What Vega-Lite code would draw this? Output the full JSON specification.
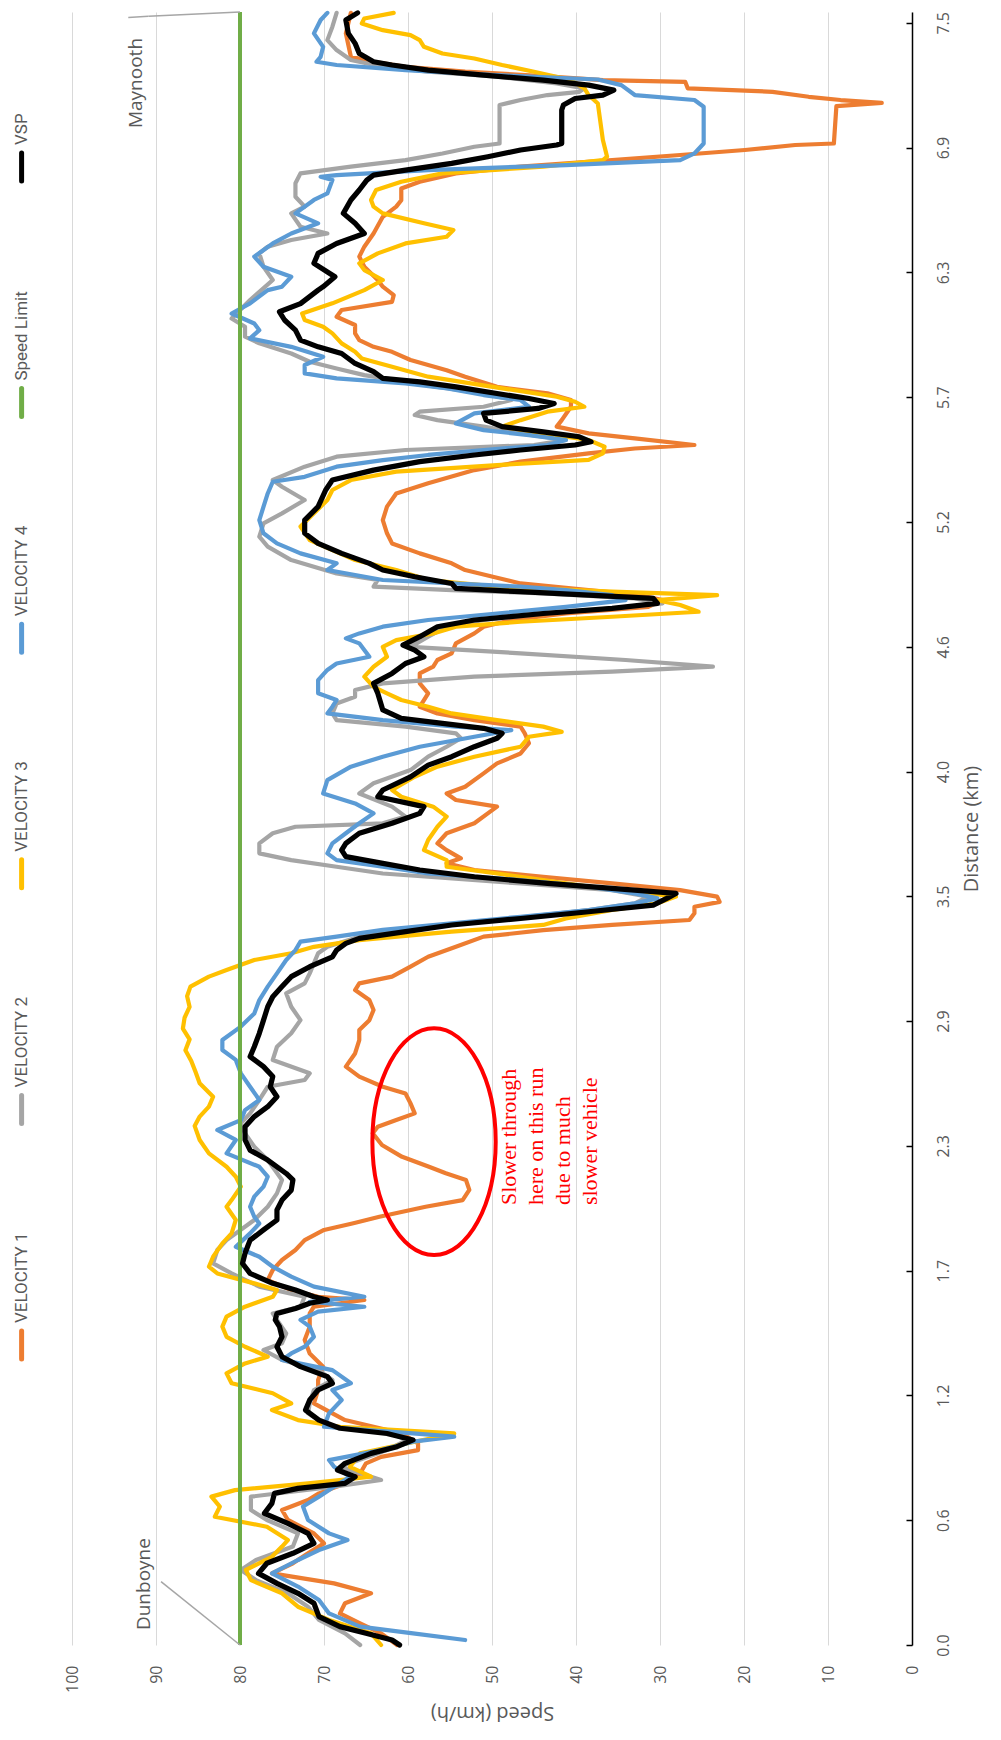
{
"$schema": "https://vega.github.io/schema/vega-lite/v6.json",
"autosize": "none",
"padding": {"left": 72, "top": 12, "right": 89, "bottom": 95},
"width": 840,
"height": 1633,
"background": "white",
"config": {"view": {"stroke": null}},
"data": {"values": [{}]},
"datasets": {
"v1": [{"d":7.546,"v":66.8},{"d":7.451,"v":67.4},{"d":7.343,"v":66.8},{"d":7.32,"v":64.1},{"d":7.297,"v":60.3},{"d":7.274,"v":53.2},{"d":7.254,"v":43.9},{"d":7.235,"v":36.8},{"d":7.227,"v":27.0},{"d":7.197,"v":26.7},{"d":7.181,"v":16.6},{"d":7.158,"v":12.3},{"d":7.143,"v":8.5},{"d":7.13,"v":3.6},{"d":7.115,"v":9.0},{"d":6.942,"v":9.3},{"d":6.935,"v":13.9},{"d":6.912,"v":19.9},{"d":6.889,"v":27.6},{"d":6.865,"v":35.7},{"d":6.835,"v":46.6},{"d":6.804,"v":54.3},{"d":6.765,"v":58.6},{"d":6.734,"v":60.8},{"d":6.68,"v":60.8},{"d":6.65,"v":61.4},{"d":6.603,"v":63.0},{"d":6.526,"v":64.1},{"d":6.465,"v":65.2},{"d":6.419,"v":65.8},{"d":6.372,"v":65.2},{"d":6.311,"v":63.6},{"d":6.28,"v":63.0},{"d":6.241,"v":61.7},{"d":6.21,"v":61.9},{"d":6.172,"v":67.9},{"d":6.141,"v":68.5},{"d":6.103,"v":66.3},{"d":6.064,"v":66.3},{"d":6.033,"v":65.8},{"d":6.002,"v":64.1},{"d":5.979,"v":61.9},{"d":5.941,"v":59.7},{"d":5.894,"v":55.4},{"d":5.864,"v":53.2},{"d":5.817,"v":49.4},{"d":5.787,"v":43.4},{"d":5.756,"v":40.6},{"d":5.725,"v":40.6},{"d":5.663,"v":41.7},{"d":5.633,"v":42.3},{"d":5.602,"v":38.5},{"d":5.579,"v":33.0},{"d":5.548,"v":25.9},{"d":5.532,"v":33.0},{"d":5.509,"v":38.5},{"d":5.471,"v":46.6},{"d":5.432,"v":52.1},{"d":5.371,"v":57.6},{"d":5.324,"v":61.4},{"d":5.263,"v":62.5},{"d":5.201,"v":63.0},{"d":5.14,"v":62.5},{"d":5.093,"v":61.9},{"d":5.047,"v":58.6},{"d":5.001,"v":54.8},{"d":4.97,"v":53.2},{"d":4.939,"v":49.9},{"d":4.908,"v":46.6},{"d":4.877,"v":38.5},{"d":4.854,"v":32.5},{"d":4.831,"v":29.7},{"d":4.8,"v":31.4},{"d":4.769,"v":41.2},{"d":4.739,"v":47.7},{"d":4.708,"v":51.0},{"d":4.677,"v":52.1},{"d":4.631,"v":54.3},{"d":4.585,"v":54.8},{"d":4.554,"v":56.5},{"d":4.523,"v":57.0},{"d":4.492,"v":58.6},{"d":4.446,"v":58.6},{"d":4.4,"v":57.6},{"d":4.369,"v":58.1},{"d":4.338,"v":58.6},{"d":4.307,"v":56.5},{"d":4.276,"v":52.1},{"d":4.246,"v":46.6},{"d":4.215,"v":46.1},{"d":4.169,"v":45.6},{"d":4.122,"v":46.6},{"d":4.076,"v":49.4},{"d":4.03,"v":51.0},{"d":3.968,"v":53.2},{"d":3.937,"v":55.4},{"d":3.907,"v":54.3},{"d":3.876,"v":49.4},{"d":3.845,"v":50.5},{"d":3.799,"v":52.1},{"d":3.753,"v":55.4},{"d":3.706,"v":56.5},{"d":3.675,"v":55.4},{"d":3.637,"v":53.7},{"d":3.614,"v":55.4},{"d":3.583,"v":52.1},{"d":3.552,"v":43.9},{"d":3.521,"v":35.7},{"d":3.49,"v":27.6},{"d":3.46,"v":23.2},{"d":3.436,"v":22.9},{"d":3.413,"v":25.9},{"d":3.383,"v":25.9},{"d":3.352,"v":26.5},{"d":3.329,"v":35.7},{"d":3.305,"v":43.9},{"d":3.275,"v":51.0},{"d":3.228,"v":54.3},{"d":3.182,"v":57.6},{"d":3.136,"v":59.7},{"d":3.09,"v":61.9},{"d":3.059,"v":65.8},{"d":3.028,"v":66.3},{"d":2.982,"v":64.6},{"d":2.936,"v":64.1},{"d":2.889,"v":64.6},{"d":2.843,"v":65.8},{"d":2.797,"v":65.8},{"d":2.735,"v":66.3},{"d":2.674,"v":67.4},{"d":2.628,"v":65.8},{"d":2.581,"v":63.0},{"d":2.55,"v":60.3},{"d":2.504,"v":59.7},{"d":2.458,"v":59.2},{"d":2.427,"v":61.4},{"d":2.396,"v":63.6},{"d":2.366,"v":64.2},{"d":2.312,"v":63.1},{"d":2.257,"v":60.7},{"d":2.211,"v":57.5},{"d":2.181,"v":55.5},{"d":2.15,"v":53.1},{"d":2.104,"v":52.7},{"d":2.057,"v":53.5},{"d":2.026,"v":57.9},{"d":1.98,"v":63.4},{"d":1.95,"v":66.5},{"d":1.919,"v":70.0},{"d":1.872,"v":72.3},{"d":1.826,"v":73.4},{"d":1.78,"v":75.0},{"d":1.734,"v":76.1},{"d":1.687,"v":76.7},{"d":1.641,"v":73.9},{"d":1.61,"v":70.7},{"d":1.595,"v":65.2},{"d":1.564,"v":71.2},{"d":1.533,"v":71.7},{"d":1.472,"v":71.7},{"d":1.41,"v":72.3},{"d":1.348,"v":71.7},{"d":1.287,"v":70.1},{"d":1.225,"v":70.7},{"d":1.179,"v":70.7},{"d":1.117,"v":71.2},{"d":1.04,"v":67.5},{"d":0.978,"v":60.7},{"d":0.932,"v":58.8},{"d":0.901,"v":58.8},{"d":0.87,"v":63.2},{"d":0.84,"v":65.0},{"d":0.793,"v":65.7},{"d":0.747,"v":67.5},{"d":0.701,"v":70.6},{"d":0.67,"v":71.9},{"d":0.624,"v":75.0},{"d":0.578,"v":74.3},{"d":0.516,"v":71.2},{"d":0.47,"v":70.0},{"d":0.424,"v":71.9},{"d":0.378,"v":73.7},{"d":0.331,"v":76.2},{"d":0.285,"v":68.8},{"d":0.239,"v":64.4},{"d":0.193,"v":67.5},{"d":0.146,"v":68.1},{"d":0.1,"v":65.7},{"d":0.054,"v":63.2},{"d":0.0,"v":61.3}],
"v2": [{"d":7.546,"v":68.5},{"d":7.482,"v":69.0},{"d":7.42,"v":69.6},{"d":7.374,"v":68.5},{"d":7.328,"v":66.8},{"d":7.297,"v":63.0},{"d":7.274,"v":57.6},{"d":7.251,"v":49.4},{"d":7.22,"v":42.3},{"d":7.197,"v":39.0},{"d":7.181,"v":39.6},{"d":7.166,"v":43.4},{"d":7.143,"v":46.6},{"d":7.12,"v":49.1},{"d":6.942,"v":49.1},{"d":6.927,"v":52.1},{"d":6.896,"v":55.9},{"d":6.865,"v":60.3},{"d":6.835,"v":66.8},{"d":6.804,"v":72.8},{"d":6.758,"v":73.4},{"d":6.696,"v":73.4},{"d":6.65,"v":72.3},{"d":6.619,"v":73.9},{"d":6.557,"v":72.8},{"d":6.526,"v":69.6},{"d":6.496,"v":73.9},{"d":6.465,"v":76.7},{"d":6.434,"v":77.7},{"d":6.372,"v":77.2},{"d":6.311,"v":76.1},{"d":6.218,"v":78.8},{"d":6.133,"v":81.0},{"d":6.095,"v":79.4},{"d":6.049,"v":79.4},{"d":6.018,"v":77.7},{"d":5.971,"v":73.9},{"d":5.933,"v":71.7},{"d":5.902,"v":68.5},{"d":5.871,"v":65.2},{"d":5.848,"v":61.4},{"d":5.817,"v":56.5},{"d":5.787,"v":51.0},{"d":5.756,"v":47.7},{"d":5.725,"v":51.0},{"d":5.702,"v":58.6},{"d":5.687,"v":59.2},{"d":5.663,"v":56.5},{"d":5.633,"v":51.0},{"d":5.602,"v":46.6},{"d":5.571,"v":41.2},{"d":5.548,"v":45.0},{"d":5.525,"v":60.3},{"d":5.494,"v":68.5},{"d":5.448,"v":72.3},{"d":5.386,"v":76.1},{"d":5.355,"v":75.0},{"d":5.294,"v":72.3},{"d":5.232,"v":75.0},{"d":5.186,"v":77.2},{"d":5.124,"v":77.7},{"d":5.078,"v":76.7},{"d":5.016,"v":73.9},{"d":4.954,"v":68.5},{"d":4.924,"v":63.6},{"d":4.893,"v":64.1},{"d":4.877,"v":54.8},{"d":4.862,"v":43.9},{"d":4.839,"v":33.0},{"d":4.816,"v":29.7},{"d":4.793,"v":35.7},{"d":4.769,"v":43.9},{"d":4.739,"v":51.0},{"d":4.708,"v":55.4},{"d":4.662,"v":57.6},{"d":4.615,"v":59.7},{"d":4.585,"v":46.6},{"d":4.554,"v":34.1},{"d":4.523,"v":23.7},{"d":4.5,"v":35.7},{"d":4.477,"v":52.1},{"d":4.446,"v":63.0},{"d":4.415,"v":66.3},{"d":4.384,"v":66.3},{"d":4.353,"v":68.5},{"d":4.307,"v":69.0},{"d":4.276,"v":68.5},{"d":4.246,"v":60.3},{"d":4.215,"v":54.3},{"d":4.192,"v":53.7},{"d":4.153,"v":55.4},{"d":4.107,"v":57.6},{"d":4.045,"v":59.7},{"d":3.984,"v":64.1},{"d":3.937,"v":65.8},{"d":3.876,"v":61.9},{"d":3.83,"v":60.3},{"d":3.799,"v":63.0},{"d":3.783,"v":73.4},{"d":3.753,"v":76.1},{"d":3.706,"v":77.7},{"d":3.66,"v":77.7},{"d":3.629,"v":73.9},{"d":3.598,"v":68.5},{"d":3.567,"v":63.0},{"d":3.552,"v":57.6},{"d":3.521,"v":46.6},{"d":3.49,"v":35.7},{"d":3.46,"v":31.4},{"d":3.429,"v":33.0},{"d":3.398,"v":38.5},{"d":3.352,"v":49.4},{"d":3.321,"v":57.6},{"d":3.275,"v":65.8},{"d":3.228,"v":69.6},{"d":3.198,"v":70.7},{"d":3.152,"v":71.2},{"d":3.105,"v":71.7},{"d":3.059,"v":72.3},{"d":3.013,"v":74.5},{"d":2.951,"v":73.9},{"d":2.889,"v":72.8},{"d":2.828,"v":73.9},{"d":2.766,"v":75.6},{"d":2.705,"v":76.1},{"d":2.643,"v":71.7},{"d":2.612,"v":72.3},{"d":2.581,"v":76.7},{"d":2.52,"v":77.7},{"d":2.458,"v":78.8},{"d":2.412,"v":79.9},{"d":2.365,"v":79.4},{"d":2.304,"v":78.3},{"d":2.242,"v":76.7},{"d":2.15,"v":75.0},{"d":2.088,"v":75.6},{"d":2.026,"v":76.7},{"d":1.965,"v":78.3},{"d":1.872,"v":81.6},{"d":1.826,"v":82.7},{"d":1.764,"v":83.2},{"d":1.718,"v":81.0},{"d":1.657,"v":77.7},{"d":1.61,"v":72.3},{"d":1.564,"v":72.8},{"d":1.533,"v":76.1},{"d":1.503,"v":75.6},{"d":1.441,"v":74.5},{"d":1.395,"v":75.0},{"d":1.364,"v":77.2},{"d":1.318,"v":75.0},{"d":1.271,"v":70.7},{"d":1.225,"v":69.0},{"d":1.179,"v":71.2},{"d":1.117,"v":71.7},{"d":1.071,"v":71.9},{"d":1.009,"v":69.4},{"d":0.978,"v":61.9},{"d":0.948,"v":60.1},{"d":0.901,"v":62.5},{"d":0.824,"v":68.1},{"d":0.763,"v":63.2},{"d":0.732,"v":68.8},{"d":0.686,"v":78.7},{"d":0.624,"v":78.7},{"d":0.578,"v":76.8},{"d":0.516,"v":73.1},{"d":0.455,"v":73.7},{"d":0.393,"v":78.1},{"d":0.347,"v":79.9},{"d":0.3,"v":78.1},{"d":0.239,"v":74.3},{"d":0.177,"v":71.9},{"d":0.116,"v":70.6},{"d":0.054,"v":67.5},{"d":0.0,"v":65.7}],
"v3": [{"d":7.546,"v":61.7},{"d":7.52,"v":65.2},{"d":7.497,"v":65.5},{"d":7.466,"v":63.0},{"d":7.443,"v":59.7},{"d":7.42,"v":58.6},{"d":7.389,"v":58.1},{"d":7.358,"v":55.9},{"d":7.335,"v":52.1},{"d":7.305,"v":48.8},{"d":7.274,"v":45.0},{"d":7.235,"v":40.6},{"d":7.197,"v":39.0},{"d":7.166,"v":38.5},{"d":7.127,"v":37.4},{"d":6.958,"v":36.8},{"d":6.881,"v":36.3},{"d":6.865,"v":36.8},{"d":6.835,"v":43.9},{"d":6.804,"v":55.9},{"d":6.765,"v":60.8},{"d":6.727,"v":63.8},{"d":6.681,"v":64.4},{"d":6.65,"v":64.1},{"d":6.619,"v":63.0},{"d":6.573,"v":58.1},{"d":6.542,"v":54.6},{"d":6.511,"v":55.4},{"d":6.48,"v":60.3},{"d":6.434,"v":63.6},{"d":6.388,"v":65.8},{"d":6.357,"v":65.2},{"d":6.311,"v":63.0},{"d":6.264,"v":65.2},{"d":6.203,"v":69.0},{"d":6.156,"v":72.6},{"d":6.126,"v":72.3},{"d":6.095,"v":70.1},{"d":6.064,"v":69.0},{"d":6.018,"v":67.9},{"d":5.979,"v":66.3},{"d":5.948,"v":65.5},{"d":5.91,"v":61.9},{"d":5.864,"v":57.6},{"d":5.817,"v":49.9},{"d":5.771,"v":42.3},{"d":5.748,"v":40.1},{"d":5.725,"v":39.0},{"d":5.702,"v":43.4},{"d":5.663,"v":46.6},{"d":5.633,"v":48.8},{"d":5.602,"v":43.9},{"d":5.571,"v":38.5},{"d":5.54,"v":36.6},{"d":5.509,"v":36.8},{"d":5.479,"v":38.5},{"d":5.455,"v":49.4},{"d":5.425,"v":61.4},{"d":5.386,"v":66.8},{"d":5.34,"v":69.0},{"d":5.294,"v":69.6},{"d":5.232,"v":71.2},{"d":5.171,"v":72.8},{"d":5.109,"v":71.7},{"d":5.062,"v":69.0},{"d":5.016,"v":66.3},{"d":4.97,"v":61.4},{"d":4.924,"v":57.6},{"d":4.893,"v":49.4},{"d":4.87,"v":35.7},{"d":4.854,"v":23.2},{"d":4.831,"v":30.3},{"d":4.808,"v":27.6},{"d":4.777,"v":25.4},{"d":4.754,"v":35.7},{"d":4.731,"v":46.6},{"d":4.708,"v":54.3},{"d":4.677,"v":57.0},{"d":4.646,"v":61.4},{"d":4.615,"v":63.0},{"d":4.569,"v":62.5},{"d":4.523,"v":64.1},{"d":4.477,"v":65.2},{"d":4.43,"v":64.1},{"d":4.4,"v":62.5},{"d":4.369,"v":60.8},{"d":4.338,"v":57.6},{"d":4.307,"v":54.8},{"d":4.276,"v":49.4},{"d":4.246,"v":43.9},{"d":4.222,"v":41.7},{"d":4.199,"v":45.6},{"d":4.153,"v":46.6},{"d":4.107,"v":52.1},{"d":4.061,"v":56.5},{"d":4.014,"v":59.2},{"d":3.953,"v":61.9},{"d":3.922,"v":60.8},{"d":3.876,"v":57.0},{"d":3.83,"v":55.4},{"d":3.783,"v":56.5},{"d":3.722,"v":57.6},{"d":3.675,"v":58.1},{"d":3.629,"v":55.4},{"d":3.598,"v":55.4},{"d":3.567,"v":49.4},{"d":3.537,"v":43.9},{"d":3.506,"v":38.5},{"d":3.483,"v":33.0},{"d":3.46,"v":28.1},{"d":3.429,"v":30.3},{"d":3.398,"v":35.7},{"d":3.359,"v":41.2},{"d":3.329,"v":43.9},{"d":3.298,"v":54.8},{"d":3.259,"v":65.8},{"d":3.228,"v":71.2},{"d":3.198,"v":73.9},{"d":3.167,"v":78.3},{"d":3.121,"v":81.6},{"d":3.09,"v":83.7},{"d":3.044,"v":85.9},{"d":3.0,"v":86.3},{"d":2.95,"v":86.0},{"d":2.9,"v":86.6},{"d":2.85,"v":86.8},{"d":2.8,"v":86.0},{"d":2.75,"v":86.5},{"d":2.7,"v":85.8},{"d":2.65,"v":85.3},{"d":2.597,"v":84.8},{"d":2.535,"v":83.2},{"d":2.489,"v":83.7},{"d":2.443,"v":84.8},{"d":2.4,"v":85.4},{"d":2.335,"v":84.8},{"d":2.273,"v":83.7},{"d":2.211,"v":81.6},{"d":2.165,"v":80.5},{"d":2.119,"v":79.9},{"d":2.057,"v":81.0},{"d":2.026,"v":81.6},{"d":1.965,"v":80.5},{"d":1.903,"v":81.0},{"d":1.857,"v":82.1},{"d":1.795,"v":83.2},{"d":1.749,"v":83.7},{"d":1.718,"v":82.7},{"d":1.672,"v":78.3},{"d":1.641,"v":75.6},{"d":1.61,"v":76.1},{"d":1.564,"v":79.4},{"d":1.518,"v":81.6},{"d":1.472,"v":82.1},{"d":1.425,"v":81.6},{"d":1.379,"v":79.4},{"d":1.333,"v":76.7},{"d":1.302,"v":79.4},{"d":1.256,"v":81.6},{"d":1.21,"v":81.0},{"d":1.164,"v":76.1},{"d":1.117,"v":73.9},{"d":1.086,"v":76.2},{"d":1.04,"v":73.1},{"d":1.009,"v":68.1},{"d":0.978,"v":54.5},{"d":0.948,"v":58.2},{"d":0.886,"v":65.7},{"d":0.824,"v":66.9},{"d":0.778,"v":64.4},{"d":0.747,"v":71.9},{"d":0.716,"v":80.6},{"d":0.686,"v":83.4},{"d":0.64,"v":82.4},{"d":0.593,"v":83.0},{"d":0.547,"v":76.8},{"d":0.485,"v":74.3},{"d":0.455,"v":75.0},{"d":0.408,"v":76.2},{"d":0.347,"v":79.3},{"d":0.3,"v":78.7},{"d":0.239,"v":75.0},{"d":0.177,"v":73.1},{"d":0.116,"v":69.4},{"d":0.054,"v":64.4},{"d":0.0,"v":63.2}],
"v4": [{"d":7.546,"v":69.6},{"d":7.513,"v":70.4},{"d":7.451,"v":71.2},{"d":7.389,"v":70.1},{"d":7.343,"v":70.4},{"d":7.32,"v":70.9},{"d":7.305,"v":68.5},{"d":7.281,"v":60.3},{"d":7.258,"v":49.4},{"d":7.238,"v":37.4},{"d":7.212,"v":34.6},{"d":7.166,"v":33.0},{"d":7.143,"v":25.9},{"d":7.112,"v":24.8},{"d":6.942,"v":24.8},{"d":6.896,"v":25.9},{"d":6.865,"v":27.6},{"d":6.842,"v":41.2},{"d":6.819,"v":57.6},{"d":6.796,"v":68.5},{"d":6.788,"v":70.4},{"d":6.773,"v":69.0},{"d":6.711,"v":69.6},{"d":6.681,"v":71.2},{"d":6.619,"v":73.4},{"d":6.573,"v":70.7},{"d":6.526,"v":73.9},{"d":6.48,"v":76.1},{"d":6.419,"v":78.3},{"d":6.372,"v":77.2},{"d":6.326,"v":73.9},{"d":6.28,"v":75.0},{"d":6.264,"v":76.7},{"d":6.203,"v":78.8},{"d":6.156,"v":81.0},{"d":6.11,"v":78.3},{"d":6.079,"v":77.7},{"d":6.041,"v":78.8},{"d":6.002,"v":73.9},{"d":5.956,"v":70.1},{"d":5.918,"v":72.3},{"d":5.879,"v":72.3},{"d":5.856,"v":68.5},{"d":5.833,"v":60.3},{"d":5.81,"v":55.3},{"d":5.779,"v":51.0},{"d":5.756,"v":46.6},{"d":5.725,"v":45.6},{"d":5.694,"v":52.1},{"d":5.648,"v":54.3},{"d":5.617,"v":51.0},{"d":5.594,"v":45.6},{"d":5.571,"v":41.2},{"d":5.548,"v":43.4},{"d":5.525,"v":51.0},{"d":5.502,"v":57.6},{"d":5.478,"v":63.0},{"d":5.448,"v":68.5},{"d":5.401,"v":72.3},{"d":5.378,"v":76.1},{"d":5.324,"v":76.7},{"d":5.263,"v":77.2},{"d":5.201,"v":77.7},{"d":5.14,"v":77.2},{"d":5.093,"v":75.6},{"d":5.047,"v":72.8},{"d":5.001,"v":68.5},{"d":4.97,"v":69.6},{"d":4.924,"v":63.0},{"d":4.893,"v":46.6},{"d":4.877,"v":41.2},{"d":4.854,"v":35.7},{"d":4.831,"v":34.1},{"d":4.8,"v":41.2},{"d":4.769,"v":49.4},{"d":4.739,"v":57.6},{"d":4.708,"v":63.0},{"d":4.677,"v":65.8},{"d":4.654,"v":67.4},{"d":4.631,"v":65.8},{"d":4.6,"v":65.2},{"d":4.569,"v":64.6},{"d":4.538,"v":68.5},{"d":4.508,"v":69.6},{"d":4.461,"v":70.7},{"d":4.4,"v":70.7},{"d":4.369,"v":68.5},{"d":4.338,"v":69.0},{"d":4.307,"v":69.6},{"d":4.276,"v":63.0},{"d":4.246,"v":54.3},{"d":4.23,"v":47.7},{"d":4.199,"v":52.1},{"d":4.153,"v":58.6},{"d":4.107,"v":63.0},{"d":4.061,"v":66.8},{"d":3.999,"v":69.6},{"d":3.937,"v":70.1},{"d":3.891,"v":66.3},{"d":3.845,"v":64.1},{"d":3.799,"v":65.8},{"d":3.753,"v":67.4},{"d":3.706,"v":69.0},{"d":3.66,"v":69.6},{"d":3.629,"v":68.5},{"d":3.598,"v":63.0},{"d":3.567,"v":57.6},{"d":3.537,"v":46.6},{"d":3.506,"v":38.5},{"d":3.475,"v":33.0},{"d":3.452,"v":30.3},{"d":3.429,"v":33.0},{"d":3.398,"v":38.5},{"d":3.367,"v":46.6},{"d":3.336,"v":54.8},{"d":3.306,"v":63.0},{"d":3.275,"v":68.5},{"d":3.252,"v":72.8},{"d":3.213,"v":73.4},{"d":3.167,"v":74.5},{"d":3.105,"v":75.6},{"d":3.044,"v":76.7},{"d":2.982,"v":77.7},{"d":2.92,"v":78.3},{"d":2.859,"v":79.9},{"d":2.797,"v":82.1},{"d":2.751,"v":82.1},{"d":2.705,"v":80.5},{"d":2.643,"v":79.9},{"d":2.581,"v":78.8},{"d":2.52,"v":77.7},{"d":2.473,"v":79.4},{"d":2.427,"v":79.9},{"d":2.381,"v":82.7},{"d":2.335,"v":80.5},{"d":2.273,"v":81.6},{"d":2.211,"v":77.7},{"d":2.165,"v":76.7},{"d":2.119,"v":77.2},{"d":2.073,"v":78.3},{"d":2.026,"v":78.8},{"d":1.98,"v":78.3},{"d":1.949,"v":77.7},{"d":1.903,"v":78.8},{"d":1.841,"v":80.5},{"d":1.795,"v":77.7},{"d":1.749,"v":76.1},{"d":1.703,"v":73.9},{"d":1.657,"v":71.2},{"d":1.61,"v":65.2},{"d":1.587,"v":71.7},{"d":1.564,"v":65.2},{"d":1.541,"v":70.7},{"d":1.503,"v":72.8},{"d":1.472,"v":71.7},{"d":1.425,"v":71.2},{"d":1.379,"v":72.3},{"d":1.348,"v":73.9},{"d":1.318,"v":75.0},{"d":1.271,"v":69.0},{"d":1.241,"v":67.9},{"d":1.21,"v":66.8},{"d":1.179,"v":69.0},{"d":1.133,"v":67.9},{"d":1.071,"v":69.4},{"d":1.009,"v":70.0},{"d":0.978,"v":59.4},{"d":0.963,"v":54.5},{"d":0.94,"v":59.4},{"d":0.901,"v":63.2},{"d":0.855,"v":69.4},{"d":0.824,"v":68.8},{"d":0.778,"v":66.9},{"d":0.732,"v":68.8},{"d":0.686,"v":70.6},{"d":0.64,"v":72.5},{"d":0.578,"v":71.9},{"d":0.516,"v":69.4},{"d":0.485,"v":67.2},{"d":0.439,"v":70.6},{"d":0.393,"v":73.1},{"d":0.331,"v":76.2},{"d":0.27,"v":73.1},{"d":0.208,"v":70.6},{"d":0.146,"v":69.4},{"d":0.085,"v":65.7},{"d":0.054,"v":59.4},{"d":0.023,"v":53.2}],
"vsp": [{"d":7.546,"v":66.0},{"d":7.513,"v":67.4},{"d":7.451,"v":67.1},{"d":7.405,"v":66.3},{"d":7.358,"v":65.8},{"d":7.32,"v":64.1},{"d":7.305,"v":61.9},{"d":7.281,"v":57.6},{"d":7.258,"v":51.0},{"d":7.235,"v":43.9},{"d":7.212,"v":38.5},{"d":7.189,"v":35.5},{"d":7.166,"v":36.8},{"d":7.15,"v":40.1},{"d":7.12,"v":41.5},{"d":7.097,"v":41.7},{"d":6.942,"v":41.7},{"d":6.935,"v":42.3},{"d":6.912,"v":46.6},{"d":6.881,"v":50.5},{"d":6.85,"v":54.8},{"d":6.819,"v":60.3},{"d":6.796,"v":64.1},{"d":6.773,"v":64.9},{"d":6.727,"v":65.8},{"d":6.681,"v":66.8},{"d":6.619,"v":67.7},{"d":6.573,"v":66.3},{"d":6.526,"v":65.2},{"d":6.48,"v":68.5},{"d":6.434,"v":70.7},{"d":6.388,"v":71.2},{"d":6.326,"v":68.7},{"d":6.28,"v":70.1},{"d":6.264,"v":70.7},{"d":6.202,"v":72.8},{"d":6.164,"v":75.3},{"d":6.126,"v":74.7},{"d":6.079,"v":73.4},{"d":6.033,"v":72.8},{"d":6.002,"v":70.7},{"d":5.971,"v":67.9},{"d":5.925,"v":66.3},{"d":5.887,"v":64.1},{"d":5.856,"v":63.0},{"d":5.84,"v":58.6},{"d":5.817,"v":54.3},{"d":5.786,"v":49.4},{"d":5.763,"v":45.6},{"d":5.74,"v":42.6},{"d":5.717,"v":44.5},{"d":5.694,"v":51.0},{"d":5.663,"v":50.7},{"d":5.633,"v":48.8},{"d":5.609,"v":43.9},{"d":5.586,"v":39.6},{"d":5.563,"v":38.2},{"d":5.548,"v":40.1},{"d":5.525,"v":46.6},{"d":5.502,"v":52.1},{"d":5.471,"v":58.6},{"d":5.432,"v":64.1},{"d":5.386,"v":69.0},{"d":5.34,"v":69.8},{"d":5.263,"v":70.7},{"d":5.201,"v":72.3},{"d":5.14,"v":72.3},{"d":5.093,"v":70.7},{"d":5.047,"v":67.9},{"d":5.001,"v":64.6},{"d":4.97,"v":63.0},{"d":4.939,"v":59.2},{"d":4.908,"v":54.8},{"d":4.885,"v":54.3},{"d":4.87,"v":46.6},{"d":4.854,"v":38.5},{"d":4.839,"v":30.8},{"d":4.816,"v":30.3},{"d":4.793,"v":35.7},{"d":4.769,"v":43.9},{"d":4.739,"v":52.1},{"d":4.708,"v":56.5},{"d":4.662,"v":58.6},{"d":4.623,"v":60.6},{"d":4.6,"v":59.2},{"d":4.569,"v":58.1},{"d":4.538,"v":60.3},{"d":4.492,"v":61.9},{"d":4.446,"v":64.1},{"d":4.4,"v":63.6},{"d":4.323,"v":63.0},{"d":4.284,"v":60.8},{"d":4.261,"v":55.9},{"d":4.238,"v":51.0},{"d":4.215,"v":48.8},{"d":4.192,"v":49.4},{"d":4.153,"v":52.1},{"d":4.107,"v":54.8},{"d":4.068,"v":57.6},{"d":4.014,"v":59.7},{"d":3.953,"v":63.0},{"d":3.922,"v":63.6},{"d":3.876,"v":58.1},{"d":3.845,"v":58.6},{"d":3.799,"v":61.9},{"d":3.753,"v":65.8},{"d":3.706,"v":67.4},{"d":3.675,"v":67.9},{"d":3.645,"v":67.4},{"d":3.614,"v":63.0},{"d":3.583,"v":58.6},{"d":3.552,"v":52.1},{"d":3.521,"v":43.4},{"d":3.498,"v":35.7},{"d":3.475,"v":28.1},{"d":3.452,"v":29.2},{"d":3.421,"v":30.8},{"d":3.39,"v":38.5},{"d":3.359,"v":46.6},{"d":3.329,"v":54.8},{"d":3.298,"v":60.3},{"d":3.267,"v":65.8},{"d":3.244,"v":67.4},{"d":3.213,"v":68.5},{"d":3.182,"v":69.0},{"d":3.136,"v":71.7},{"d":3.09,"v":73.9},{"d":3.044,"v":75.0},{"d":2.997,"v":76.1},{"d":2.951,"v":76.7},{"d":2.889,"v":77.2},{"d":2.828,"v":77.7},{"d":2.766,"v":78.3},{"d":2.72,"v":78.8},{"d":2.674,"v":77.2},{"d":2.628,"v":76.1},{"d":2.581,"v":76.4},{"d":2.535,"v":75.6},{"d":2.489,"v":76.7},{"d":2.443,"v":78.3},{"d":2.396,"v":79.4},{"d":2.335,"v":79.4},{"d":2.288,"v":78.8},{"d":2.242,"v":76.7},{"d":2.18,"v":74.5},{"d":2.15,"v":73.7},{"d":2.103,"v":73.9},{"d":2.057,"v":75.0},{"d":2.011,"v":75.6},{"d":1.965,"v":75.6},{"d":1.919,"v":77.2},{"d":1.872,"v":78.8},{"d":1.811,"v":79.4},{"d":1.764,"v":79.7},{"d":1.718,"v":78.8},{"d":1.672,"v":76.1},{"d":1.641,"v":73.4},{"d":1.61,"v":71.2},{"d":1.595,"v":69.6},{"d":1.58,"v":71.7},{"d":1.556,"v":73.4},{"d":1.533,"v":75.6},{"d":1.503,"v":75.8},{"d":1.472,"v":75.3},{"d":1.425,"v":75.0},{"d":1.379,"v":75.6},{"d":1.333,"v":75.0},{"d":1.287,"v":72.8},{"d":1.241,"v":69.6},{"d":1.21,"v":69.0},{"d":1.179,"v":70.7},{"d":1.133,"v":71.7},{"d":1.086,"v":72.2},{"d":1.04,"v":70.6},{"d":1.002,"v":68.1},{"d":0.978,"v":62.5},{"d":0.948,"v":59.4},{"d":0.917,"v":61.3},{"d":0.886,"v":64.4},{"d":0.84,"v":67.5},{"d":0.809,"v":68.4},{"d":0.778,"v":66.3},{"d":0.747,"v":67.5},{"d":0.724,"v":73.1},{"d":0.701,"v":75.9},{"d":0.655,"v":76.2},{"d":0.609,"v":77.1},{"d":0.562,"v":74.3},{"d":0.516,"v":71.9},{"d":0.47,"v":71.2},{"d":0.424,"v":73.7},{"d":0.378,"v":76.8},{"d":0.331,"v":77.8},{"d":0.285,"v":75.6},{"d":0.239,"v":73.1},{"d":0.193,"v":71.2},{"d":0.131,"v":70.6},{"d":0.085,"v":68.1},{"d":0.054,"v":65.0},{"d":0.023,"v":61.9},{"d":0.0,"v":61.0}]
},
"layer": [
{
"data": {"name": "v1"},
"mark": {"type": "line", "strokeWidth": 4.2, "strokeJoin": "round", "strokeCap": "round"},
"encoding": {
"x": {"field": "v", "type": "quantitative", "scale": {"domain": [0, 100], "reverse": true, "nice": false, "zero": false},
"axis": {"values": [0,10,20,30,40,50,60,70,80,90,100], "orient": "bottom", "labelAngle": 270, "labelPadding": 20, "ticks": false, "domain": false, "grid": true, "gridColor": "#D9D9D9", "gridWidth": 1, "labelFont": "Open Sans", "labelFontSize": 16, "labelColor": "#595959", "title": "Speed (km/h)", "titleAngle": 180, "titleBaseline": "bottom", "titlePadding": 10, "titleFont": "Open Sans", "titleFontSize": 20, "titleFontWeight": "normal", "titleColor": "#595959"}},
"y": {"field": "d", "type": "quantitative", "scale": {"domain": [0, 7.55], "nice": false, "zero": false},
"axis": {"orient": "right", "values": [0,0.576923,1.153846,1.730769,2.307692,2.884615,3.461538,4.038462,4.615385,5.192308,5.769231,6.346154,6.923077,7.5], "labelExpr": "['0.0','0.6','1.2','1.7','2.3','2.9','3.5','4.0','4.6','5.2','5.7','6.3','6.9','7.5'][round(datum.value*13/7.5)]", "grid": false, "ticks": true, "tickSize": -6, "tickColor": "#000000", "tickWidth": 1.5, "domainColor": "#000000", "domainWidth": 1.5, "labelAngle": 270, "labelAlign": "center", "labelBaseline": "top", "labelPadding": 29, "labelFont": "Open Sans", "labelFontSize": 16, "labelColor": "#595959", "title": "Distance (km)", "titleAngle": 270, "titleBaseline": "top", "titlePadding": 10, "titleFont": "Open Sans", "titleFontSize": 20, "titleFontWeight": "normal", "titleColor": "#595959"}},
"order": {"field": "d", "type": "quantitative"},
"color": {"datum": "VELOCITY 1", "type": "nominal", "scale": {"domain": ["VELOCITY 1","VELOCITY 2","VELOCITY 3","VELOCITY 4","Speed Limit","VSP"], "range": ["#ED7D31","#A5A5A5","#FFC000","#5B9BD5","#70AD47","#000000"]}, "legend": null}
}
},
{
"data": {"name": "v2"},
"mark": {"type": "line", "strokeWidth": 4.2, "strokeJoin": "round", "strokeCap": "round"},
"encoding": {
"x": {"field": "v", "type": "quantitative", "scale": {"domain": [0, 100], "reverse": true, "nice": false, "zero": false}},
"y": {"field": "d", "type": "quantitative", "scale": {"domain": [0, 7.55], "nice": false, "zero": false}, "axis": null},
"order": {"field": "d", "type": "quantitative"},
"color": {"datum": "VELOCITY 2", "type": "nominal", "scale": {"domain": ["VELOCITY 1","VELOCITY 2","VELOCITY 3","VELOCITY 4","Speed Limit","VSP"], "range": ["#ED7D31","#A5A5A5","#FFC000","#5B9BD5","#70AD47","#000000"]}, "legend": null}
}
},
{
"data": {"name": "v3"},
"mark": {"type": "line", "strokeWidth": 4.2, "strokeJoin": "round", "strokeCap": "round"},
"encoding": {
"x": {"field": "v", "type": "quantitative", "scale": {"domain": [0, 100], "reverse": true, "nice": false, "zero": false}},
"y": {"field": "d", "type": "quantitative", "scale": {"domain": [0, 7.55], "nice": false, "zero": false}, "axis": null},
"order": {"field": "d", "type": "quantitative"},
"color": {"datum": "VELOCITY 3", "type": "nominal", "scale": {"domain": ["VELOCITY 1","VELOCITY 2","VELOCITY 3","VELOCITY 4","Speed Limit","VSP"], "range": ["#ED7D31","#A5A5A5","#FFC000","#5B9BD5","#70AD47","#000000"]}, "legend": null}
}
},
{
"data": {"name": "v4"},
"mark": {"type": "line", "strokeWidth": 4.2, "strokeJoin": "round", "strokeCap": "round"},
"encoding": {
"x": {"field": "v", "type": "quantitative", "scale": {"domain": [0, 100], "reverse": true, "nice": false, "zero": false}},
"y": {"field": "d", "type": "quantitative", "scale": {"domain": [0, 7.55], "nice": false, "zero": false}, "axis": null},
"order": {"field": "d", "type": "quantitative"},
"color": {"datum": "VELOCITY 4", "type": "nominal", "scale": {"domain": ["VELOCITY 1","VELOCITY 2","VELOCITY 3","VELOCITY 4","Speed Limit","VSP"], "range": ["#ED7D31","#A5A5A5","#FFC000","#5B9BD5","#70AD47","#000000"]}, "legend": null}
}
},
{
"mark": {"type": "rule", "strokeWidth": 4},
"encoding": {
"x": {"datum": 80, "type": "quantitative", "scale": {"domain": [0, 100], "reverse": true, "nice": false, "zero": false}},
"color": {"datum": "Speed Limit", "type": "nominal", "scale": {"domain": ["VELOCITY 1","VELOCITY 2","VELOCITY 3","VELOCITY 4","Speed Limit","VSP"], "range": ["#ED7D31","#A5A5A5","#FFC000","#5B9BD5","#70AD47","#000000"]}, "legend": null}
}
},
{
"data": {"name": "vsp"},
"mark": {"type": "line", "strokeWidth": 5.2, "strokeJoin": "round", "strokeCap": "round"},
"encoding": {
"x": {"field": "v", "type": "quantitative", "scale": {"domain": [0, 100], "reverse": true, "nice": false, "zero": false}},
"y": {"field": "d", "type": "quantitative", "scale": {"domain": [0, 7.55], "nice": false, "zero": false}, "axis": null},
"order": {"field": "d", "type": "quantitative"},
"color": {"datum": "VSP", "type": "nominal", "scale": {"domain": ["VELOCITY 1","VELOCITY 2","VELOCITY 3","VELOCITY 4","Speed Limit","VSP"], "range": ["#ED7D31","#A5A5A5","#FFC000","#5B9BD5","#70AD47","#000000"]}, "legend": null}
}
},
{
"data": {"values": [{"series": "VELOCITY 1"},{"series": "VELOCITY 2"},{"series": "VELOCITY 3"},{"series": "VELOCITY 4"},{"series": "Speed Limit"},{"series": "VSP"}]},
"mark": {"type": "point", "shape": "M0,-1L0,1", "size": 784, "filled": false, "strokeWidth": 5, "strokeCap": "round", "opacity": 1},
"encoding": {
"x": {"datum": 106, "type": "quantitative", "scale": {"domain": [0, 100], "reverse": true, "nice": false, "zero": false}},
"y": {"field": "series", "type": "nominal", "scale": {"type": "point", "domain": ["VSP","Speed Limit","VELOCITY 4","VELOCITY 3","VELOCITY 2","VELOCITY 1"], "range": [155, 1333], "padding": 0}, "axis": null},
"color": {"field": "series", "type": "nominal", "scale": {"domain": ["VELOCITY 1","VELOCITY 2","VELOCITY 3","VELOCITY 4","Speed Limit","VSP"], "range": ["#ED7D31","#A5A5A5","#FFC000","#5B9BD5","#70AD47","#000000"]}, "legend": null}
}
},
{
"data": {"values": [{"series": "VELOCITY 1"},{"series": "VELOCITY 2"},{"series": "VELOCITY 3"},{"series": "VELOCITY 4"},{"series": "Speed Limit"},{"series": "VSP"}]},
"mark": {"type": "text", "angle": 270, "align": "left", "baseline": "middle", "dx": 22, "font": "Roboto", "fontSize": 17, "color": "#595959"},
"encoding": {
"x": {"datum": 106, "type": "quantitative", "scale": {"domain": [0, 100], "reverse": true, "nice": false, "zero": false}},
"y": {"field": "series", "type": "nominal", "scale": {"type": "point", "domain": ["VSP","Speed Limit","VELOCITY 4","VELOCITY 3","VELOCITY 2","VELOCITY 1"], "range": [155, 1333], "padding": 0}, "axis": null},
"text": {"field": "series"}
}
},
{
"mark": {"type": "rule", "color": "#A6A6A6", "strokeWidth": 1.5},
"encoding": {
"x": {"datum": 80, "type": "quantitative", "scale": {"domain": [0, 100], "reverse": true, "nice": false, "zero": false}},
"x2": {"datum": 89.4},
"y": {"datum": 0, "type": "quantitative", "scale": {"domain": [0, 7.55], "nice": false, "zero": false}, "axis": null},
"y2": {"datum": 0.293}
}
},
{
"mark": {"type": "text", "text": "Dunboyne", "angle": 270, "align": "left", "baseline": "middle", "font": "Open Sans", "fontSize": 19, "color": "#595959"},
"encoding": {
"x": {"datum": 91.4, "type": "quantitative", "scale": {"domain": [0, 100], "reverse": true, "nice": false, "zero": false}},
"y": {"datum": 0.069, "type": "quantitative", "scale": {"domain": [0, 7.55], "nice": false, "zero": false}, "axis": null}
}
},
{
"mark": {"type": "rule", "color": "#A6A6A6", "strokeWidth": 1.5},
"encoding": {
"x": {"datum": 80, "type": "quantitative", "scale": {"domain": [0, 100], "reverse": true, "nice": false, "zero": false}},
"x2": {"datum": 90.9},
"y": {"datum": 7.55, "type": "quantitative", "scale": {"domain": [0, 7.55], "nice": false, "zero": false}, "axis": null},
"y2": {"datum": 7.53}
}
},
{
"mark": {"type": "rule", "color": "#A6A6A6", "strokeWidth": 1.5},
"encoding": {
"x": {"datum": 90.9, "type": "quantitative", "scale": {"domain": [0, 100], "reverse": true, "nice": false, "zero": false}},
"x2": {"datum": 93.3},
"y": {"datum": 7.53, "type": "quantitative", "scale": {"domain": [0, 7.55], "nice": false, "zero": false}, "axis": null},
"y2": {"datum": 7.525}
}
},
{
"mark": {"type": "text", "text": "Maynooth", "angle": 270, "align": "right", "baseline": "middle", "font": "Open Sans", "fontSize": 19, "color": "#595959"},
"encoding": {
"x": {"datum": 92.4, "type": "quantitative", "scale": {"domain": [0, 100], "reverse": true, "nice": false, "zero": false}},
"y": {"datum": 7.43, "type": "quantitative", "scale": {"domain": [0, 7.55], "nice": false, "zero": false}, "axis": null}
}
},
{
"mark": {"type": "point", "shape": "M0,-1C0.3,-1 0.544,-0.552 0.544,0C0.544,0.552 0.3,1 0,1C-0.3,1 -0.544,0.552 -0.544,0C-0.544,-0.552 -0.3,-1 0,-1Z", "size": 51393, "filled": false, "color": "#FF0000", "strokeWidth": 4, "opacity": 1},
"encoding": {
"x": {"datum": 56.9, "type": "quantitative", "scale": {"domain": [0, 100], "reverse": true, "nice": false, "zero": false}},
"y": {"datum": 2.327, "type": "quantitative", "scale": {"domain": [0, 7.55], "nice": false, "zero": false}, "axis": null}
}
},
{
"mark": {"type": "text", "text": ["Slower through", "here on this run", "due to much", "slower vehicle"], "angle": 270, "align": "left", "baseline": "top", "lineHeight": 27, "font": "Liberation Serif", "fontSize": 22, "color": "#FF0000"},
"encoding": {
"x": {"datum": 49.2, "type": "quantitative", "scale": {"domain": [0, 100], "reverse": true, "nice": false, "zero": false}},
"y": {"datum": 2.034, "type": "quantitative", "scale": {"domain": [0, 7.55], "nice": false, "zero": false}, "axis": null}
}
}
],
"resolve": {"scale": {"y": "independent"}}
}
